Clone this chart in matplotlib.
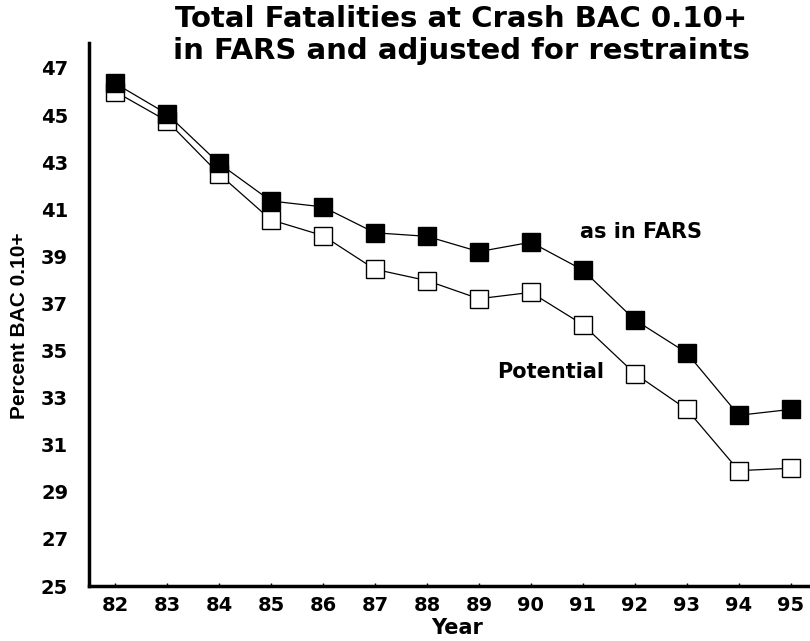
import matplotlib
matplotlib.use("Agg")
import matplotlib.pyplot as plt
from matplotlib import font_manager

years = [82, 83, 84, 85, 86, 87, 88, 89, 90, 91, 92, 93, 94, 95]
fars = [46.35, 45.05, 42.95, 41.35, 41.1, 40.0, 39.85, 39.2, 39.6, 38.42, 36.3, 34.9, 32.25, 32.5]
potential = [46.0, 44.75, 42.5, 40.55, 39.88, 38.45, 37.97, 37.2, 37.47, 36.1, 34.02, 32.5, 29.9, 30.0]
yticks = list(range(25, 48, 2))

plt.rcParams['font.family'] = ['DejaVu Sans']

narrow = 'Liberation Sans'
for cand in ['Liberation Sans Narrow', 'DejaVu Sans Condensed']:
    try:
        font_manager.findfont(font_manager.FontProperties(family=cand), fallback_to_default=False)
        narrow = cand
        break
    except Exception:
        pass

fig = plt.figure(figsize=(8.1, 6.41), dpi=100)
ax = fig.add_axes([89/810, 1-586/641, 1-89/810, (586-43)/641])

ax.plot(years, potential, color='black', lw=0.9, marker='s', markersize=12.5,
        markerfacecolor='white', markeredgecolor='black', markeredgewidth=1.0, zorder=2)
ax.plot(years, fars, color='black', lw=0.9, marker='s', markersize=13,
        markerfacecolor='black', markeredgecolor='black', zorder=3)

ax.set_xlim(81.5, 95.37)
ax.set_ylim(25, 48.06)
ax.set_xticks(years)
ax.set_xticklabels([str(y) for y in years], fontsize=14, fontweight='bold')
ax.set_yticks(yticks)
ax.set_yticklabels([str(v) for v in yticks], fontsize=14, fontweight='bold')
ax.tick_params(axis='x', direction='in', length=2, width=1, pad=7)
ax.tick_params(axis='y', length=0, pad=15)

for s in ['top', 'right']:
    ax.spines[s].set_visible(False)
for s in ['left', 'bottom']:
    ax.spines[s].set_linewidth(2.5)

fig.text(457/810, 1-628/641, 'Year', fontsize=15, fontweight='bold', ha='center', va='center')
fig.text(20/810, 1-326/641, 'Percent BAC 0.10+', fontsize=15, fontweight='bold',
         family=narrow, rotation=90, ha='center', va='center')

fig.text(641/810, 1-232/641, 'as in FARS', fontsize=15, fontweight='bold',
         ha='center', va='center')
fig.text(551/810, 1-372/641, 'Potential', fontsize=15, fontweight='bold',
         ha='center', va='center')
fig.text(461/810, 1-35/641, 'Total Fatalities at Crash BAC 0.10+\nin FARS and adjusted for restraints',
         fontsize=21, fontweight='bold', ha='center', va='center', linespacing=1.22)

fig.savefig('out.png', dpi=100)
